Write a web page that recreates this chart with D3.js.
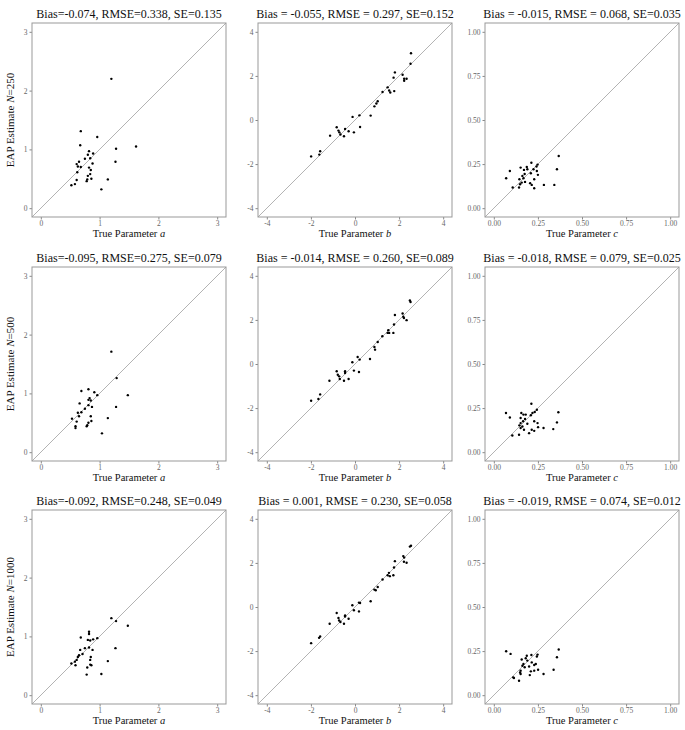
<!doctype html>
<html>
<head>
<meta charset="utf-8">
<script src="https://cdn.jsdelivr.net/npm/d3@7"></script>
<style>
  body { margin: 0; background: #fff; }
  text { font-family: "Liberation Serif", "Times New Roman", serif; }
</style>
</head>
<body>
<svg width="685" height="730"></svg>
<script>
// sample sizes (rows) and parameters (columns)
const sampleSizes = ["250", "500", "1000"];
const params = ["a", "b", "c"];
const limits = { a: [0, 3], b: [-4, 4], c: [0, 1] };
const tickValues = {
  a: [0, 1, 2, 3],
  b: [-4, -2, 0, 2, 4],
  c: [0, 0.25, 0.5, 0.75, 1]
};

const titles = [
  ["Bias=-0.074, RMSE=0.338, SE=0.135", "Bias = -0.055, RMSE = 0.297, SE=0.152", "Bias = -0.015, RMSE = 0.068, SE=0.035"],
  ["Bias=-0.095, RMSE=0.275, SE=0.079", "Bias = -0.014, RMSE = 0.260, SE=0.089", "Bias = -0.018, RMSE = 0.079, SE=0.025"],
  ["Bias=-0.092, RMSE=0.248, SE=0.049", "Bias = 0.001, RMSE = 0.230, SE=0.058", "Bias = -0.019, RMSE = 0.074, SE=0.012"]
];

// [true, estimate] pairs
const a250 = [[1.20,2.20],[0.68,1.31],[0.96,1.21],[0.67,1.07],[1.28,1.01],[1.62,1.05],[0.82,0.97],[0.89,0.93],
  [0.80,0.91],[0.84,0.85],[0.75,0.84],[0.61,0.75],[0.65,0.79],[0.63,0.71],[0.68,0.70],[0.88,0.76],[1.27,0.79],
  [0.82,0.69],[0.85,0.65],[0.62,0.61],[0.84,0.58],[0.80,0.55],[0.86,0.50],[0.79,0.49],[0.78,0.46],[1.14,0.49],
  [0.61,0.48],[0.58,0.41],[0.52,0.39],[1.03,0.32]];
const a500 = [[1.20,1.71],[1.29,1.26],[1.48,0.97],[0.81,1.07],[0.69,1.04],[0.91,1.02],[0.96,0.97],[0.83,0.92],
  [0.81,0.89],[0.85,0.88],[0.66,0.83],[0.87,0.77],[1.28,0.77],[0.75,0.74],[0.69,0.68],[0.81,0.80],[0.63,0.67],
  [0.65,0.61],[0.53,0.57],[1.14,0.58],[0.85,0.61],[0.61,0.52],[0.86,0.53],[0.81,0.50],[0.59,0.44],[0.59,0.41],
  [0.79,0.46],[0.78,0.44],[1.04,0.32]];
const a1000 = [[1.20,1.31],[1.28,1.26],[1.48,1.18],[0.82,1.08],[0.82,1.04],[0.68,0.98],[0.96,0.97],[0.89,0.95],
  [0.80,0.94],[0.84,0.93],[0.75,0.80],[0.67,0.77],[0.88,0.77],[1.27,0.80],[0.82,0.81],[0.71,0.70],[0.65,0.68],
  [0.63,0.65],[0.61,0.60],[0.85,0.65],[0.84,0.60],[0.58,0.57],[0.52,0.54],[0.59,0.51],[1.14,0.58],[0.84,0.52],
  [0.86,0.51],[0.79,0.47],[0.78,0.35],[1.03,0.36]];

const b250 = [[2.54,3.03],[2.52,2.55],[1.81,2.16],[1.75,1.92],[2.16,2.05],[2.23,1.87],[2.34,1.87],[2.23,1.78],
  [1.25,1.27],[1.48,1.48],[1.55,1.34],[1.60,1.25],[1.78,1.31],[1.03,0.85],[0.97,0.75],[0.88,0.62],[0.71,0.20],
  [0.20,0.21],[-0.11,0.14],[0.23,-0.32],[-0.05,-0.56],[-0.29,-0.51],[-0.45,-0.41],[-0.50,-0.74],[-0.83,-0.33],
  [-0.75,-0.48],[-0.71,-0.56],[-0.66,-0.66],[-1.13,-0.71],[-1.58,-1.42],[-1.62,-1.57],[-1.99,-1.65]];
const b500 = [[2.49,2.88],[2.52,2.81],[1.81,2.22],[2.16,2.29],[2.19,2.14],[2.22,2.09],[2.34,1.99],[1.77,1.79],
  [1.74,1.41],[1.51,1.53],[1.48,1.41],[1.55,1.41],[1.24,1.26],[1.03,1.00],[0.88,0.77],[0.91,0.65],[0.68,0.23],
  [0.12,0.32],[0.21,0.20],[-0.12,0.08],[-0.05,-0.30],[0.18,-0.36],[-0.29,-0.68],[-0.45,-0.33],[-0.45,-0.41],
  [-0.50,-0.76],[-0.83,-0.33],[-0.78,-0.49],[-0.72,-0.56],[-0.69,-0.68],[-1.16,-0.76],[-1.58,-1.38],
  [-1.66,-1.59],[-1.99,-1.67]];
const b1000 = [[2.54,2.78],[2.49,2.74],[2.19,2.31],[2.23,2.24],[1.81,2.08],[2.22,2.05],[2.34,2.01],[1.77,1.79],
  [1.74,1.44],[1.54,1.55],[1.48,1.44],[1.58,1.40],[1.25,1.25],[1.03,0.91],[0.88,0.79],[0.94,0.76],[0.71,0.26],
  [0.18,0.20],[0.23,0.18],[-0.12,0.08],[-0.05,-0.15],[0.18,-0.20],[-0.29,-0.53],[-0.45,-0.38],[-0.45,-0.43],
  [-0.50,-0.76],[-0.83,-0.27],[-0.75,-0.50],[-0.72,-0.61],[-0.66,-0.68],[-1.15,-0.76],[-1.58,-1.34],
  [-1.63,-1.40],[-1.99,-1.64]];

const c250 = [[0.368,0.296],[0.213,0.258],[0.248,0.247],[0.242,0.236],[0.091,0.211],[0.358,0.221],[0.152,0.230],
  [0.187,0.234],[0.190,0.221],[0.171,0.217],[0.225,0.221],[0.244,0.211],[0.070,0.170],[0.162,0.183],[0.175,0.194],
  [0.210,0.198],[0.250,0.189],[0.168,0.170],[0.145,0.164],[0.229,0.164],[0.177,0.149],[0.158,0.145],[0.206,0.142],
  [0.149,0.136],[0.215,0.132],[0.284,0.132],[0.343,0.132],[0.107,0.117],[0.143,0.117],[0.229,0.113]];
const c500 = [[0.366,0.226],[0.213,0.275],[0.069,0.222],[0.091,0.197],[0.156,0.222],[0.168,0.213],[0.181,0.213],
  [0.219,0.222],[0.244,0.241],[0.232,0.228],[0.152,0.194],[0.210,0.209],[0.177,0.188],[0.152,0.165],[0.166,0.175],
  [0.229,0.175],[0.248,0.165],[0.358,0.169],[0.145,0.152],[0.190,0.161],[0.162,0.146],[0.152,0.137],[0.251,0.142],
  [0.282,0.137],[0.337,0.131],[0.215,0.127],[0.171,0.127],[0.229,0.121],[0.200,0.108],[0.143,0.099],[0.105,0.095]];
const c1000 = [[0.368,0.259],[0.070,0.249],[0.095,0.234],[0.213,0.228],[0.358,0.215],[0.248,0.230],[0.244,0.219],
  [0.187,0.224],[0.158,0.202],[0.181,0.209],[0.190,0.196],[0.215,0.186],[0.168,0.177],[0.162,0.167],[0.238,0.177],
  [0.229,0.171],[0.175,0.158],[0.200,0.163],[0.251,0.144],[0.152,0.139],[0.149,0.129],[0.210,0.135],[0.229,0.139],
  [0.152,0.120],[0.282,0.120],[0.339,0.144],[0.204,0.114],[0.110,0.101],[0.143,0.082],[0.114,0.097]];

const panelData = [[a250, b250, c250], [a500, b500, c500], [a1000, b1000, c1000]];

var svg = d3.select("svg");
var size = 194,
    lefts = [32, 258, 485],
    tops = [23, 267, 510];

// plain hyphen for negatives, like the original
function fmt(p) {
  return function (v) { return p === "c" ? v.toFixed(2) : String(v); };
}

sampleSizes.forEach(function (n, r) {
  params.forEach(function (p, c) {
    var lim = limits[p],
        pad = (lim[1] - lim[0]) * 0.05,
        dom = [lim[0] - pad, lim[1] + pad];
    var x = d3.scaleLinear().domain(dom).range([0, size]),
        y = d3.scaleLinear().domain(dom).range([size, 0]);

    var g = svg.append("g")
      .attr("transform", "translate(" + lefts[c] + "," + tops[r] + ")");

    // axes
    var xa = g.append("g")
      .attr("transform", "translate(0," + size + ")")
      .call(d3.axisBottom(x).tickValues(tickValues[p]).tickFormat(fmt(p)).tickSize(2.5).tickPadding(1.5));
    var ya = g.append("g")
      .call(d3.axisLeft(y).tickValues(tickValues[p]).tickFormat(fmt(p)).tickSize(2.5).tickPadding(2));
    [xa, ya].forEach(function (a) {
      a.select(".domain").remove();
      a.selectAll("line").attr("stroke", "#888");
      a.selectAll("text")
        .attr("fill", "#666")
        .style("font-family", "Liberation Serif")
        .style("font-size", "7.5px");
    });

    // 45 degree reference line
    g.append("line")
      .attr("x1", x(dom[0])).attr("y1", y(dom[0]))
      .attr("x2", x(dom[1])).attr("y2", y(dom[1]))
      .attr("stroke", "#b3b3b3")
      .attr("stroke-width", 1);

    // points
    g.append("g")
      .selectAll("circle")
      .data(panelData[r][c])
      .enter()
      .append("circle")
      .attr("cx", function (d) { return x(d[0]); })
      .attr("cy", function (d) { return y(d[1]); })
      .attr("r", 1.2)
      .attr("fill", "#000");

    // panel border
    g.append("rect")
      .attr("width", size).attr("height", size)
      .attr("fill", "none")
      .attr("stroke", "#999")
      .attr("stroke-width", 1);

    // title
    g.append("text")
      .attr("x", size / 2).attr("y", -5)
      .attr("text-anchor", "middle")
      .style("font-size", "12px")
      .attr("fill", "#111")
      .text(titles[r][c]);

    // x label
    var xl = g.append("text")
      .attr("x", size / 2).attr("y", size + 20)
      .attr("text-anchor", "middle")
      .style("font-size", "10.5px")
      .attr("fill", "#111");
    xl.append("tspan").text("True Parameter ");
    xl.append("tspan").style("font-style", "italic").text(p);

    // y label only on first column
    if (c === 0) {
      var yl = svg.append("text")
        .attr("text-anchor", "middle")
        .attr("transform", "translate(14," + (tops[r] + size / 2) + ")rotate(-90)")
        .style("font-size", "11px")
        .attr("fill", "#111");
      yl.append("tspan").text("EAP Estimate ");
      yl.append("tspan").style("font-style", "italic").text("N");
      yl.append("tspan").text("=" + n);
    }
  });
});
</script>
</body>
</html>
